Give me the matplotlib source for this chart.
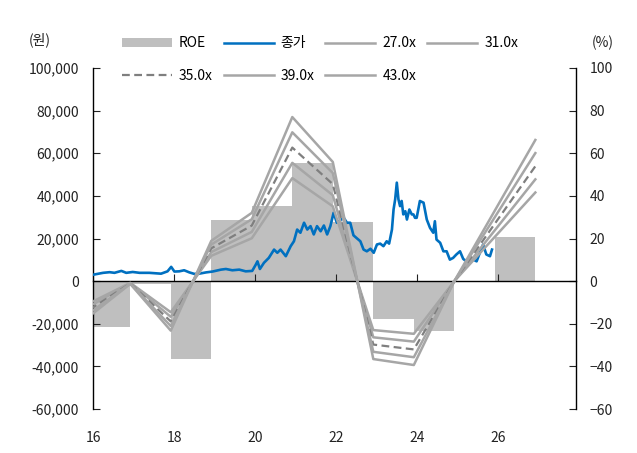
import matplotlib
matplotlib.use("Agg")
import matplotlib.pyplot as plt
from matplotlib.patches import Patch
from matplotlib.lines import Line2D

plt.rcParams['font.family'] = ['Noto Sans CJK KR', 'DejaVu Sans']

# ROE (%) by year, bars start at each period
roe_start = [15.92, 16.92, 17.92, 18.92, 19.92, 20.92, 21.92, 22.92, 23.92, 24.92, 25.92]
roe_values = [-21.5, -1.4, -36.6, 28.5, 35.2, 55.6, 27.7, -17.6, -23.3, 0.0, 20.8]

# EPS (원) for the PER band
band_dates = [15.92, 16.92, 17.92, 18.92, 19.92, 20.92, 21.92, 22.92, 23.92, 24.92, 25.92, 26.92]
eps_values = [-380, -30, -540, 440, 745, 1790, 1300, -850, -915, 0, 770, 1540]
per_multiples = [27.0, 31.0, 35.0, 39.0, 43.0]

# 종가 (원)
price_dates = [16.00, 16.25, 16.41, 16.53, 16.70, 16.82, 16.98, 17.15, 17.39, 17.68,
               17.84, 17.93, 18.01, 18.13, 18.25, 18.38, 18.50, 18.62, 18.79, 18.95,
               19.16, 19.28, 19.44, 19.61, 19.77, 19.93, 20.02, 20.06, 20.12, 20.22,
               20.34, 20.47, 20.55, 20.63, 20.76, 20.88, 20.96, 21.04, 21.12, 21.21,
               21.29, 21.37, 21.45, 21.53, 21.62, 21.70, 21.78, 21.86, 21.94, 22.02,
               22.07, 22.19, 22.27, 22.35, 22.43, 22.52, 22.60, 22.68, 22.76, 22.85,
               22.93, 23.01, 23.09, 23.17, 23.25, 23.31, 23.38, 23.42, 23.46, 23.50,
               23.54, 23.58, 23.62, 23.66, 23.71, 23.75, 23.81, 23.87, 23.91, 23.95,
               23.99, 24.07, 24.16, 24.24, 24.32, 24.40, 24.44, 24.48, 24.57, 24.65,
               24.73, 24.81, 24.89, 24.97, 25.06, 25.14, 25.22, 25.30, 25.39, 25.47,
               25.55, 25.63, 25.71, 25.80, 25.85]
price_values = [3000, 3900, 4200, 3900, 4800, 3900, 4300, 3900, 3900, 3500,
                4600, 6700, 4500, 4600, 5100, 4100, 3400, 3500, 4100, 4500,
                5400, 5700, 5100, 5400, 4600, 4800, 7800, 9300, 5700, 8600,
                10900, 14800, 13300, 14800, 11700, 16400, 18700, 24200, 22700, 27400,
                24200, 25800, 21900, 25800, 23400, 26100, 21900, 25800, 32100, 27400,
                28100, 29700, 27400, 27400, 21500, 20000, 18700, 14800, 14000, 15200,
                13300, 17200, 17600, 16400, 18700, 17600, 24200, 33600, 38400, 46200,
                38400, 35200, 37600, 31300, 32800, 28900, 33600, 31300, 31300, 29700,
                29700, 37600, 36800, 28900, 25000, 22700, 28100, 19500, 18000, 14000,
                14000, 10100, 10900, 12500, 14000, 10400, 9300, 10100, 10100, 9300,
                13300, 17200, 12500, 11700, 14800]

bar_color = '#BFBFBF'
band_color = '#A6A6A6'
mid_color = '#7F7F7F'
price_color = '#0070C0'

fig = plt.figure(figsize=(6.37, 4.53), dpi=100)
ax = fig.add_axes([0.146, 0.097, 0.758, 0.753])
ax2 = ax.twinx()

# ROE bars on the right axis, drawn behind
ax2.bar(roe_start, roe_values, width=1.0, align='edge', color=bar_color, zorder=1)
ax.set_zorder(ax2.get_zorder() + 1)
ax.patch.set_visible(False)

ax.plot(price_dates, price_values, color=price_color, lw=1.9, zorder=3)
for m in per_multiples:
    vals = [e * m for e in eps_values]
    if m == 35.0:
        ax.plot(band_dates, vals, color=mid_color, lw=1.6, ls=(0, (3.5, 2)), zorder=4)
    else:
        ax.plot(band_dates, vals, color=band_color, lw=1.8, zorder=4)

ymin, ymax = -60000, 100000
ax.set_xlim(16, 27.92)
ax.set_ylim(ymin, ymax)
ax2.set_ylim(-60, 100)

ax.set_xticks([16, 18, 20, 22, 24, 26])
ax.set_xticklabels(['16', '18', '20', '22', '24', '26'])
ax.set_yticks(range(-60000, 100001, 20000))
ax.set_yticklabels([f'{v:,}' for v in range(-60000, 100001, 20000)])
ax2.set_yticks(range(-60, 101, 20))

for s in ['top', 'right']:
    ax.spines[s].set_visible(False)
for s in ['top', 'left', 'bottom']:
    ax2.spines[s].set_visible(False)
ax.spines['bottom'].set_position(('data', 0))

# x labels sit at the bottom even though the axis line is at zero
ax_h_pt = 0.753 * 4.53 * 72
xpad = (0 - ymin) / (ymax - ymin) * ax_h_pt + 16

ax.tick_params(axis='y', direction='in', length=5, pad=10, labelsize=10, colors='#222222')
ax.tick_params(axis='x', direction='in', length=5, pad=xpad, labelsize=10, colors='#222222')
ax2.tick_params(axis='y', direction='in', length=5, pad=10, labelsize=10, colors='#222222')
for sp in [ax.spines['left'], ax.spines['bottom'], ax2.spines['right']]:
    sp.set_color('black')
    sp.set_linewidth(1.0)

# legend (column-major order so rows read across)
h_roe = Patch(facecolor=bar_color, edgecolor='none')
h_price = Line2D([], [], color=price_color, lw=1.8)
h27 = Line2D([], [], color=band_color, lw=1.8)
h31 = Line2D([], [], color=band_color, lw=1.8)
h35 = Line2D([], [], color=mid_color, lw=1.6, ls=(0, (3.5, 2)))
h39 = Line2D([], [], color=band_color, lw=1.8)
h43 = Line2D([], [], color=band_color, lw=1.8)
handles = [h_roe, h35, h_price, h39, h27, h43, h31]
labels = ['ROE', '35.0x', '종가', '39.0x', '27.0x', '43.0x', '31.0x']
fig.legend(handles, labels, ncol=4, loc='upper left', bbox_to_anchor=(0.18, 0.935),
           frameon=False, fontsize=10, handlelength=3.6, handletextpad=0.5,
           columnspacing=0.8, labelspacing=1.35, borderpad=0)

fig.text(40 / 637, 1 - 40 / 453, '(원)', ha='center', va='center', fontsize=10, color='#222222')
fig.text(603 / 637, 1 - 43 / 453, '(%)', ha='center', va='center', fontsize=10, color='#222222')

fig.savefig('out.png', dpi=100)
